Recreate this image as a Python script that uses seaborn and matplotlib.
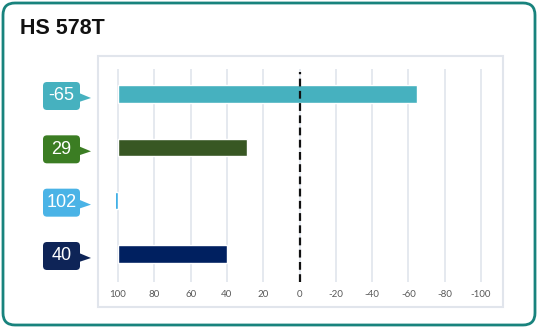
import matplotlib
matplotlib.use("Agg")
import matplotlib.pyplot as plt
import seaborn as sns
import pandas as pd
from matplotlib.patches import FancyBboxPatch, Polygon, Rectangle
from matplotlib.transforms import Affine2D

# ---- data ----
title = "HS 578T"
cells = ["s1", "s2", "s3", "s4"]
values = [-65, 29, 102, 40]
bar_colors = ["#46b1bf", "#385723", "#42b0e6", "#002060"]
badge_colors = ["#46b1bf", "#3b7d23", "#4ab3e6", "#0e2457"]
tick_values = [100, 80, 60, 40, 20, 0, -20, -40, -60, -80, -100]
baseline = 100

W, H = 538, 328
sns.set_theme(style="white")
plt.rcParams["axes.unicode_minus"] = False

fig = plt.figure(figsize=(W / 100, H / 100), dpi=100)
# pixel coordinates measured from the top-left corner of the figure
px = Affine2D().scale(1 / W, -1 / H).translate(0, 1) + fig.transFigure

# outer rounded card
fig.patches.append(FancyBboxPatch((3, 3), W - 6, H - 6,
                                  boxstyle="round,pad=0,rounding_size=12",
                                  transform=px, facecolor="none",
                                  edgecolor="#18837d", linewidth=2, zorder=3))
# inner chart frame
fig.patches.append(Rectangle((98, 56), 405, 251, transform=px, zorder=3,
                             facecolor="none", edgecolor="#e1e5ec", linewidth=1.5))

fig.text(20 / W, 1 - 29 / H, title, fontsize=15.5, fontweight="bold",
         family="Liberation Sans", color="#111111", va="center", ha="left")

# plot area
unit = 363 / 200
x_left = 118 - unit
x_right = 481 + unit
top, bottom = 69, 282
ax = fig.add_axes([x_left / W, 1 - bottom / H, (x_right - x_left) / W, (bottom - top) / H])
ax.patch.set_alpha(0)

df = pd.DataFrame({"cell": cells, "value": values})
df["span"] = df["value"] - baseline

sns.barplot(data=df, x="span", y="cell", hue="cell", palette=bar_colors,
            legend=False, orient="h", width=0.32, saturation=1,
            errorbar=None, left=baseline, ax=ax, zorder=2)

ax.set_xlim(baseline + 1, -baseline - 1)
step = (254 - 94) / 3
ax.set_ylim(3 + (282 - 254) / step, -(94 - 69) / step)

ax.set_xticks(tick_values)
ax.set_xticklabels([str(t) for t in tick_values], family="Lato")
ax.tick_params(axis="x", length=0, pad=6, labelsize=7, labelcolor="#595959")
ax.set_yticks([])
ax.set_xlabel("")
ax.set_ylabel("")
for s in ax.spines.values():
    s.set_visible(False)
ax.set_axisbelow(True)
ax.grid(axis="x", color="#e3e7ee", linewidth=1.3)
ax.grid(axis="y", visible=False)
ax.axvline(0, ymin=0, ymax=0.985, color="#111111", linewidth=1.6,
           linestyle=(0, (3.5, 2)), zorder=5)

# value badges beside each bar
fig.canvas.draw()
for i, (v, c) in enumerate(zip(values, badge_colors)):
    _, yd = ax.transData.transform((0, i))
    yc = H - yd + 2
    fig.patches.append(FancyBboxPatch((43, yc - 14), 37, 28,
                                      boxstyle="round,pad=0,rounding_size=4",
                                      transform=px, facecolor=c, edgecolor="none"))
    fig.patches.append(Polygon([(79, yc - 3), (91, yc + 2), (79, yc + 6)],
                               closed=True, transform=px, facecolor=c, edgecolor="none"))
    fig.text(61.5 / W, 1 - yc / H, str(v), transform=fig.transFigure,
             fontsize=13, family="Liberation Sans", color="white",
             ha="center", va="center")

fig.savefig("out.png", dpi=100, facecolor="white")
